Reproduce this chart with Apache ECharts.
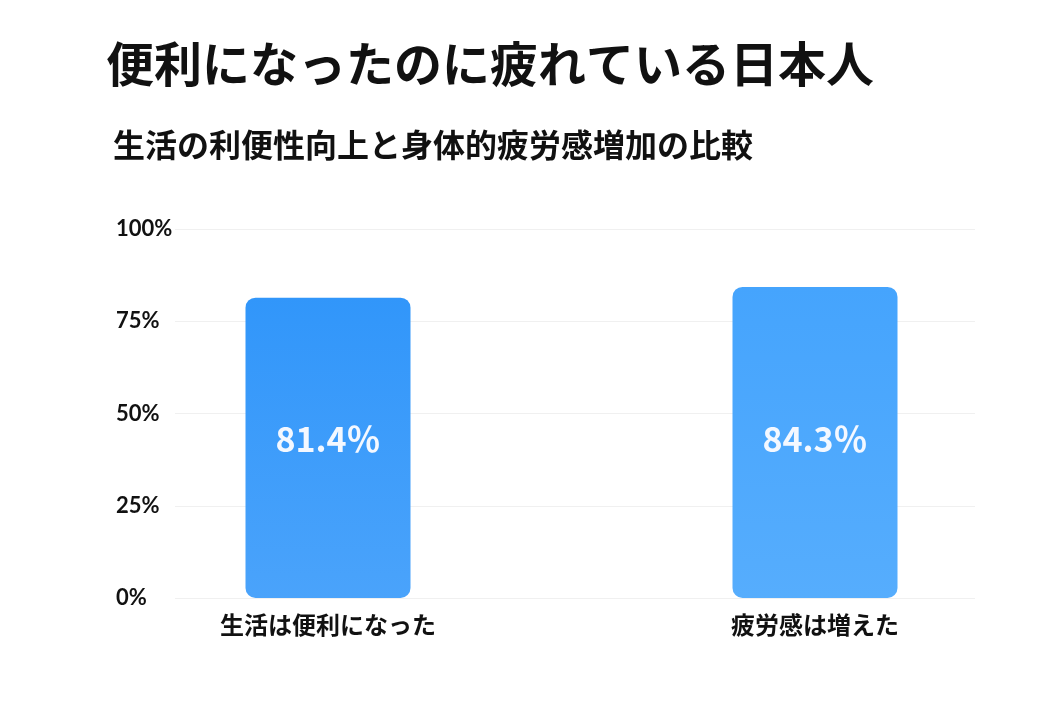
<!DOCTYPE html>
<html>
<head>
<meta charset="utf-8">
<script src="https://cdn.jsdelivr.net/npm/echarts@6/dist/echarts.min.js"></script>
<style>
  html, body { margin: 0; padding: 0; background: #ffffff; }
  #main { width: 1040px; height: 720px; }
</style>
</head>
<body>
<div id="main"></div>
<script>
// 数据
var categories = ['生活は便利になった', '疲労感は増えた'];
var values = [81.4, 84.3];
var yTicks = [0, 25, 50, 75, 100];

var barColors = [
    ['#3196fa', '#4aa3fb'],
    ['#45a4fd', '#56adfd']
];

var cjk = '"Noto Sans CJK JP", "Noto Sans", sans-serif';

var myChart = echarts.init(document.getElementById('main'));

var barData = [];
for (var i = 0; i < values.length; i++) {
    barData.push({
        value: values[i],
        itemStyle: {
            color: new echarts.graphic.LinearGradient(0, 0, 0, 1, [
                { offset: 0, color: barColors[i][0] },
                { offset: 1, color: barColors[i][1] }
            ]),
            borderRadius: 10
        }
    });
}

var option = {
    backgroundColor: '#ffffff',
    title: [{
        text: '便利になったのに疲れている日本人',
        left: 101,
        top: 35,
        textStyle: { fontFamily: cjk, fontSize: 48, fontWeight: 'bold', color: '#111111' }
    }, {
        text: '生活の利便性向上と身体的疲労感増加の比較',
        left: 108,
        top: 124,
        textStyle: { fontFamily: cjk, fontSize: 32, fontWeight: 'bold', color: '#111111' }
    }],
    grid: [
        { left: 175, right: 65, top: 229, bottom: 122 },    // 刻度与网格线
        { left: 328, right: 225, top: 229, bottom: 122 }    // 柱子，类目在两端
    ],
    xAxis: [{
        type: 'category',
        gridIndex: 0,
        data: categories,
        show: false
    }, {
        type: 'category',
        gridIndex: 1,
        data: categories,
        boundaryGap: false,
        axisLine: { show: false },
        axisTick: { show: false },
        axisLabel: {
            margin: 15,
            fontFamily: cjk,
            fontSize: 24,
            fontWeight: 'bold',
            color: '#111111'
        }
    }],
    yAxis: [{
        type: 'value',
        gridIndex: 0,
        min: yTicks[0],
        max: yTicks[yTicks.length - 1],
        interval: 25,
        axisLine: { show: false },
        axisTick: { show: false },
        axisLabel: {
            formatter: '{value}%',
            align: 'left',
            margin: 59,
            fontFamily: 'Lato, "Noto Sans", sans-serif',
            fontSize: 22,
            fontWeight: 'bold',
            color: '#111111'
        },
        splitLine: { lineStyle: { color: '#f0f0f0', width: 1 } }
    }, {
        type: 'value',
        gridIndex: 1,
        min: yTicks[0],
        max: yTicks[yTicks.length - 1],
        interval: 25,
        show: false,
        splitLine: { show: false }
    }],
    series: [{
        type: 'bar',
        xAxisIndex: 1,
        yAxisIndex: 1,
        barWidth: 165,
        clip: false,
        data: barData,
        label: {
            show: true,
            position: 'insideBottom',
            distance: 142,
            formatter: function (p) { return p.value.toFixed(1) + '％'; },
            fontFamily: cjk,
            fontSize: 34,
            fontWeight: 'bold',
            color: '#f4f8ff'
        }
    }]
};

myChart.setOption(option);
</script>
</body>
</html>
